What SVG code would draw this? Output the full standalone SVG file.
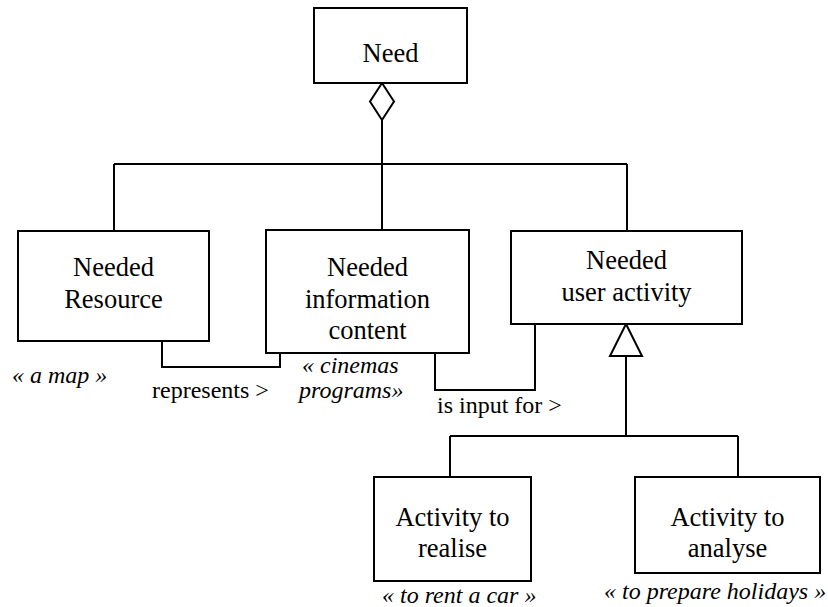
<svg xmlns="http://www.w3.org/2000/svg" width="828" height="607" viewBox="0 0 828 607">
<style>
.box{fill:#fff;stroke:#000;stroke-width:2}
.ln{fill:none;stroke:#000;stroke-width:2}
text{font-family:'Liberation Serif','Times New Roman',Tinos,'DejaVu Serif',serif;fill:#000}
.t{font-size:26.5px;text-anchor:middle}
.l{font-size:24px}
.i{font-style:italic}
</style>
<rect width="828" height="607" fill="#fff"/>
<g id="connectors">
<path class="ln" d="M382 120 V164 M114 164 H627 M114 164 V231 M382 164 V230 M627 164 V231"/>
<path class="ln" d="M382 83 L394 101.5 L382 120 L370 101.5 Z" fill="#fff"/>
<path class="ln" d="M626 356 V436 M450 436 H738 M450 436 V477 M738 436 V477"/>
<path class="ln" d="M626 324 L642 356 L610 356 Z" fill="#fff"/>
<path class="ln" d="M162 341 V367 H280 V353"/>
<path class="ln" d="M435 353 V390 H535 V324"/>
<text class="l" x="152" y="398">represents &gt;</text>
<text class="l" x="437" y="413">is input for &gt;</text>
</g>
<g id="need">
<rect class="box" x="314" y="8" width="153" height="75"/>
<text class="t" x="390.5" y="62">Need</text>
</g>
<g id="needed-resource">
<rect class="box" x="18" y="231" width="191" height="110"/>
<text class="t" x="113.5" y="276">Needed</text>
<text class="t" x="113.5" y="308">Resource</text>
<text class="l i" x="12" y="383">« a map »</text>
</g>
<g id="needed-information-content">
<rect class="box" x="266" y="230" width="203" height="123"/>
<text class="t" x="367.5" y="276">Needed</text>
<text class="t" x="367.5" y="308">information</text>
<text class="t" x="367.5" y="339">content</text>
<text class="l i" x="302" y="373">« cinemas</text>
<text class="l i" x="299" y="398">programs»</text>
</g>
<g id="needed-user-activity">
<rect class="box" x="511" y="231" width="231" height="93"/>
<text class="t" x="626.5" y="269">Needed</text>
<text class="t" x="626.5" y="301">user activity</text>
</g>
<g id="activity-to-realise">
<rect class="box" x="374" y="477" width="157" height="104"/>
<text class="t" x="452.5" y="526">Activity to</text>
<text class="t" x="452.5" y="557">realise</text>
<text class="l i" x="382" y="603">« to rent a car »</text>
</g>
<g id="activity-to-analyse">
<rect class="box" x="635" y="477" width="185" height="96"/>
<text class="t" x="727.5" y="526">Activity to</text>
<text class="t" x="727.5" y="557">analyse</text>
<text class="l i" x="604" y="599">« to prepare holidays »</text>
</g>
</svg>
